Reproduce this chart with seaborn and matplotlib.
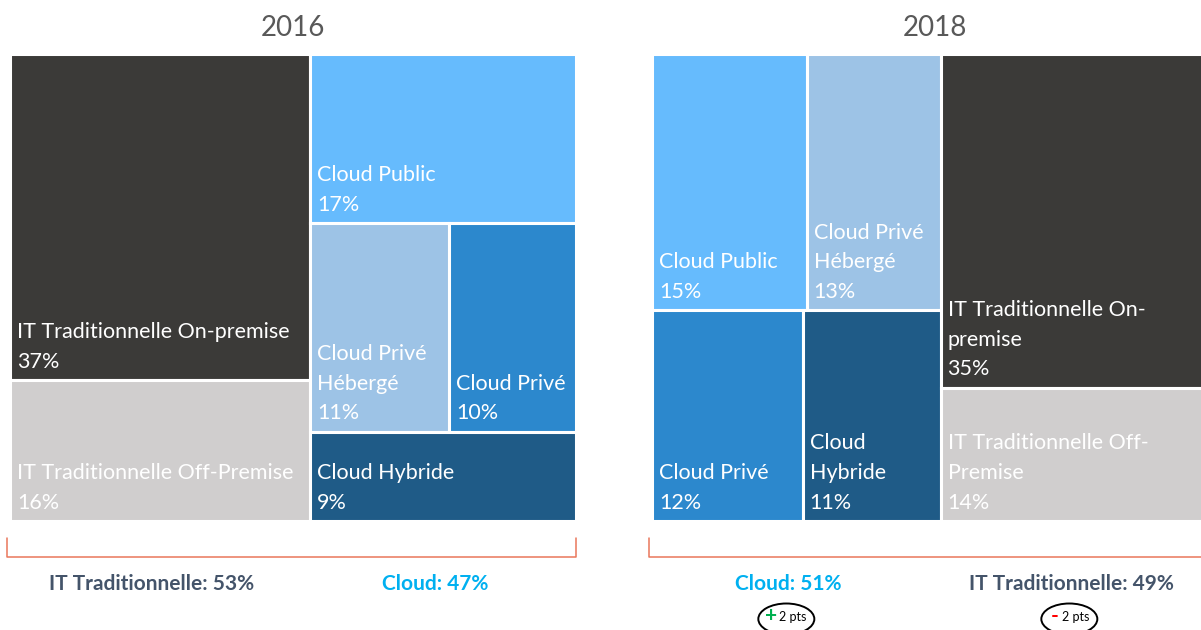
import matplotlib
matplotlib.use("Agg")
import matplotlib.pyplot as plt
from matplotlib.patches import Ellipse
import seaborn as sns

# --- data ---
years = ["2016", "2018"]

cats_2016 = ["IT Traditionnelle On-premise", "IT Traditionnelle Off-Premise",
             "Cloud Public", "Cloud Privé Hébergé", "Cloud Privé", "Cloud Hybride"]
vals_2016 = [37, 16, 17, 11, 10, 9]
text_2016 = ["IT Traditionnelle On-premise", "IT Traditionnelle Off-Premise",
             "Cloud Public", "Cloud Privé\nHébergé", "Cloud Privé", "Cloud Hybride"]

cats_2018 = ["Cloud Public", "Cloud Privé Hébergé", "Cloud Privé", "Cloud Hybride",
             "IT Traditionnelle On-premise", "IT Traditionnelle Off-Premise"]
vals_2018 = [15, 13, 12, 11, 35, 14]
text_2018 = ["Cloud Public", "Cloud Privé\nHébergé", "Cloud Privé", "Cloud\nHybride",
             "IT Traditionnelle On-\npremise", "IT Traditionnelle Off-\nPremise"]

group_names = {"IT": "IT Traditionnelle", "Cloud": "Cloud"}
# change shown under 2018 (as printed on the chart)
delta_pts = {"Cloud": 2, "IT": -2}

# treemap arrangement: columns (groups) -> rows -> category indexes
layout_2016 = [("IT", [[0], [1]]), ("Cloud", [[2], [3, 4], [5]])]
layout_2018 = [("Cloud", [[0, 1], [2, 3]]), ("IT", [[4], [5]])]

colors = {
    "IT Traditionnelle On-premise": "#3b3a38",
    "IT Traditionnelle Off-Premise": "#d0cece",
    "Cloud Public": "#66bbfd",
    "Cloud Privé Hébergé": "#9dc3e6",
    "Cloud Privé": "#2c88cd",
    "Cloud Hybride": "#1f5b87",
}
group_colors = {"IT": "#44546a", "Cloud": "#00b0f0"}

sns.set_theme(style="white")
plt.rcParams["font.family"] = ["Lato", "DejaVu Sans"]

W, H = 1201, 630
fig = plt.figure(figsize=(W / 100, H / 100), dpi=100)

# panel boxes in pixels: left, top, width, height
panels = [(10, 54, 566, 467), (652, 54, 566, 467)]


def draw_treemap(ax, cats, vals, texts, layout):
    total = sum(vals)
    x0 = 0.0
    spans = {}
    for grp, rows in layout:
        gsum = sum(vals[i] for r in rows for i in r)
        gw = gsum / total * 100
        y0 = 0.0
        for r in rows:
            rsum = sum(vals[i] for i in r)
            rh = rsum / gsum
            cx = x0
            for i in r:
                cw = vals[i] / rsum * gw
                ax.bar(cx, rh, width=cw, bottom=y0, align="edge",
                       color=colors[cats[i]], edgecolor="white", linewidth=2.2)
                ax.annotate(f"{texts[i]}\n{vals[i]}%", xy=(cx, y0 + rh),
                            xytext=(5, 6), textcoords="offset points",
                            ha="left", va="bottom", color="white",
                            fontsize=15.5, linespacing=1.6)
                cx += cw
            y0 += rh
        spans[grp] = (x0, x0 + gw, gsum)
        x0 += gw
    ax.set_xlim(0, 100)
    ax.set_ylim(1, 0)
    ax.axis("off")
    return spans


ov = fig.add_axes([0, 0, 1, 1], zorder=-1)
ov.set_xlim(0, W)
ov.set_ylim(H, 0)
ov.axis("off")

all_data = [(cats_2016, vals_2016, text_2016, layout_2016),
            (cats_2018, vals_2018, text_2018, layout_2018)]
for k, ((px, py, pw, ph), year, (cats, vals, texts, layout)) in enumerate(
        zip(panels, years, all_data)):
    ax = fig.add_axes([px / W, 1 - (py + ph) / H, pw / W, ph / H])
    spans = draw_treemap(ax, cats, vals, texts, layout)

    ov.text(px + pw / 2, 28, year, ha="center", va="center",
            fontsize=20, color="#595959")

    # bracket under the panel
    bl, br = px - 3, px + pw
    ov.plot([bl, bl, br, br], [538, 557, 557, 538], color="#e9775b",
            lw=1.1, solid_joinstyle="round")

    for grp, (a, b, gsum) in spans.items():
        cx = px + (a + b) / 2 / 100 * pw - 8
        ov.text(cx, 584, f"{group_names[grp]}: {gsum}%", ha="center",
                va="center", fontsize=15, fontweight="bold",
                color=group_colors[grp])
        if k == 1:
            d = delta_pts[grp]
            ov.add_patch(Ellipse((cx - 2, 619), 56, 31, fill=False,
                                 edgecolor="black", lw=1.4, clip_on=False))
            ov.text(cx - 17, 616, "+" if d > 0 else "-", ha="center",
                    va="center", fontsize=15, fontweight="bold",
                    color="#00b050" if d > 0 else "#ff0000")
            ov.text(cx + 4, 617, f"{abs(d)} pts", ha="center", va="center",
                    fontsize=9, color="black")

fig.savefig("out.png", dpi=100, facecolor="white")
